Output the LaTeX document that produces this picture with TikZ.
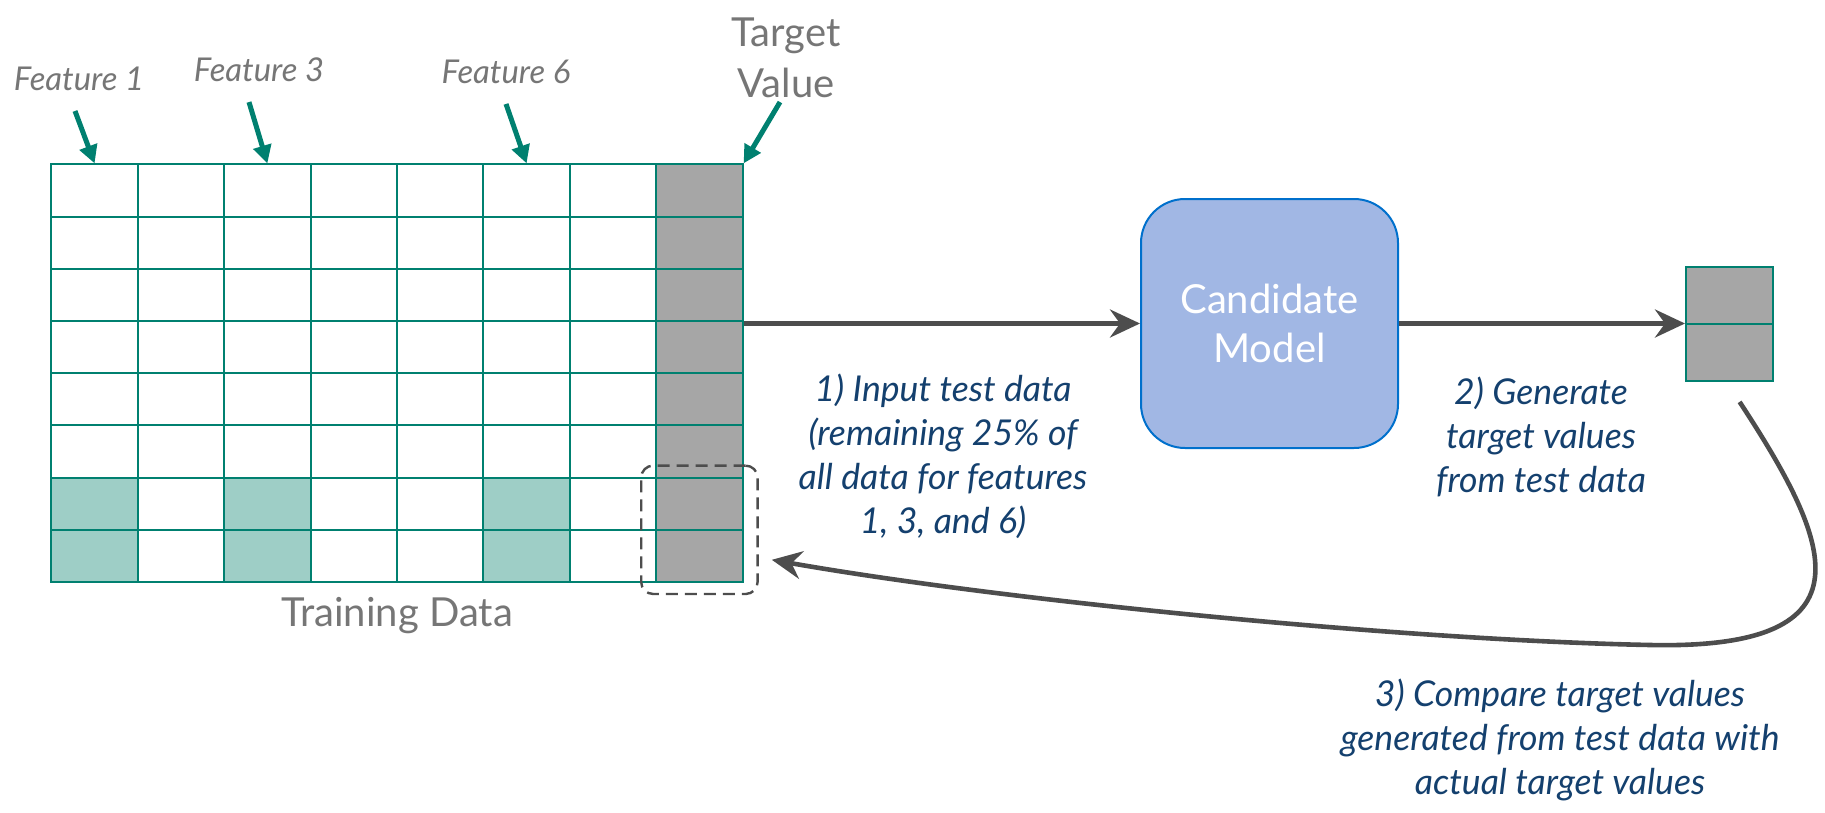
\documentclass[tikz,border=0pt]{standalone}
\usepackage{fontspec}
\setmainfont{Lato}
\usepackage{tikz}
\usetikzlibrary{matrix,positioning,fit,arrows.meta}
\usepackage{xcolor}
\definecolor{gridteal}{RGB}{0,128,112}
\definecolor{featfill}{RGB}{158,206,198}
\definecolor{targetgray}{RGB}{166,166,166}
\definecolor{labelgray}{RGB}{118,118,118}
\definecolor{stepblue}{RGB}{20,64,110}
\definecolor{arrowgray}{RGB}{77,77,77}
\definecolor{modelfill}{RGB}{161,183,228}
\definecolor{modeldraw}{RGB}{0,112,204}

\begin{document}
\begin{tikzpicture}[x=0.5pt,y=-0.5pt]
    \tikzstyle{cell} = [rectangle, draw=gridteal, line width=1pt,
    minimum width=43.2pt, minimum height=26.1pt, inner sep=0pt]
    \tikzstyle{feat} = [cell, fill=featfill]
    \tikzstyle{tval} = [cell, fill=targetgray]
    \tikzstyle{line} = [draw=arrowgray, line width=2.3pt,
    -{Stealth[length=15pt,width=14pt,inset=5pt]}]
    \tikzstyle{pointer} = [draw=gridteal, line width=2.5pt,
    -{Triangle[length=9pt,width=9pt]}]
    \tikzstyle{flabel} = [text=labelgray, font=\fontsize{16.4}{19}\selectfont\itshape]
    \tikzstyle{caption} = [text=labelgray, align=center,
    font=\fontsize{20}{25.5}\selectfont]
    \tikzstyle{steptext} = [text=stepblue, align=center,
    font=\fontsize{17.8}{22}\selectfont\itshape]
    \tikzstyle{model} = [rectangle, rounded corners=22pt, draw=modeldraw,
    line width=1pt, fill=modelfill, minimum width=128.5pt,
    minimum height=124.5pt, text=white, align=center,
    font=\fontsize{20}{24.5}\selectfont]

    \useasboundingbox (0,0) rectangle (1825,813);

    % Define matrix
    \matrix [matrix of nodes,
    nodes=cell,
    column sep=-1pt,
    row sep=-1pt,
    inner sep=0pt,
    anchor=north west
    ] (stack) at (50,163) {
      {} & {} & {} & {} & {} & {} & {} & |[tval]| {} \\
      {} & {} & {} & {} & {} & {} & {} & |[tval]| {} \\
      {} & {} & {} & {} & {} & {} & {} & |[tval]| {} \\
      {} & {} & {} & {} & {} & {} & {} & |[tval]| {} \\
      {} & {} & {} & {} & {} & {} & {} & |[tval]| {} \\
      {} & {} & {} & {} & {} & {} & {} & |[tval]| {} \\
      |[feat]| {} & {} & |[feat]| {} & {} & {} & |[feat]| {} & {} & |[tval]| {} \\
      |[feat]| {} & {} & |[feat]| {} & {} & {} & |[feat]| {} & {} & |[tval]| {} \\
    };
    \node[caption] (trainlbl) at ([yshift=-16pt]stack.south) {Training Data};

    % Column labels
    \node[flabel] (f1) at (79,79) {Feature 1};
    \node[flabel] (f3) at (259,70) {Feature 3};
    \node[flabel] (f6) at (506,72) {Feature 6};
    \node[caption] (tv) at (786,58) {Target\\Value};
    \draw[pointer] ([xshift=-2pt,yshift=-6.5pt]f1.south) -- (stack-1-1.north);
    \draw[pointer] ([xshift=-5pt,yshift=-6.5pt]f3.south) -- (stack-1-3.north);
    \draw[pointer] ([yshift=-6.5pt]f6.south) -- (stack-1-6.north);
    \draw[pointer] ([xshift=-3pt,yshift=1.5pt]tv.south) -- (stack-1-8.north east);

    % Test rows being checked
    \node[draw=arrowgray, line width=1.2pt, dash pattern=on 6pt off 3.5pt,
    rounded corners=6pt, inner xsep=7pt, inner ysep=5.5pt,
    fit=(stack-7-8)(stack-8-8)] (check) {};

    % Model and output
    \node[model] (model) at (1269.5,323.5) {Candidate\\Model};
    \matrix [matrix of nodes,
    nodes={tval, minimum height=28.5pt},
    row sep=-1pt,
    inner sep=0pt,
    right=143pt of model
    ] (pred) {
      {} \\
      {} \\
    };

    \draw[line] (model.west -| stack.east) -- (model.west);
    \draw[line] (model.east) -- (pred.west);
    \coordinate (loopturn) at (1650,645);
    \draw[line] ([xshift=5pt,yshift=-10pt]pred.south)
      .. controls (1830,540) and (1880,650) .. (loopturn)
      .. controls (1400,640) and (1000,600) .. ([xshift=6.5pt,yshift=-15pt]check.east);

    % Step texts
    \node[steptext] (s1) at (943,456) {1) Input test data\\(remaining 25\% of\\all data for features\\1, 3, and 6)};
    \node[steptext] (s2) at (1541,437) {2) Generate\\target values\\from test data};
    \node[steptext] (s3) at (1560,740) {3) Compare target values\\generated from test data with\\actual target values};

  \end{tikzpicture}
\end{document}
